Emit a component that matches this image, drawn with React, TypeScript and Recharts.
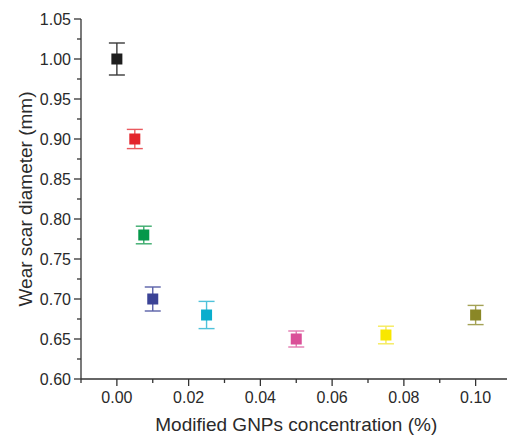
import { ScatterChart, Scatter, XAxis, YAxis, ErrorBar } from 'recharts'

// GNP loading (%) and measured wear scar diameters (mm) with their error bars
const concentration = [0, 0.005, 0.0075, 0.01, 0.025, 0.05, 0.075, 0.1]
const wearScar = [1.0, 0.9, 0.78, 0.7, 0.68, 0.65, 0.655, 0.68]
const wearError = [0.02, 0.012, 0.011, 0.015, 0.017, 0.01, 0.011, 0.012]

const markerColors = ['#1e1e1e', '#e3242b', '#05984a', '#3b4396', '#0aaecd', '#da4f98', '#f8e700', '#8a8726']
const barColors = ['#3a3a3a', '#ea5a5f', '#3bab6c', '#5a61a8', '#4fc2da', '#e27ab1', '#f5ea5a', '#a4a255']

const xMajorTicks = [0, 0.02, 0.04, 0.06, 0.08, 0.1]
const xMinorTicks = [-0.01, 0.01, 0.03, 0.05, 0.07, 0.09, 0.11]
const yMajorTicks = [0.6, 0.65, 0.7, 0.75, 0.8, 0.85, 0.9, 0.95, 1.0, 1.05]
const yMinorTicks = [0.625, 0.675, 0.725, 0.775, 0.825, 0.875, 0.925, 0.975, 1.025]

const FONT = '"Liberation Sans", Arial, sans-serif'
const AXIS = '#333333'
const TEXT = '#2a2a2a'

const series = concentration.map((x, i) => ({
  data: [{ x, y: wearScar[i], err: wearError[i] }],
  color: markerColors[i],
  barColor: barColors[i],
}))

const Square = (props: any) => {
  const { cx, cy, fill } = props
  if (cx == null || cy == null) return null
  return <rect x={cx - 5.5} y={cy - 5.5} width={11} height={11} fill={fill} />
}

// bottom axis: long ticks + labels on majors, short ticks on minors
const BottomTick = (props: any) => {
  const { x, y, payload } = props
  const major = xMajorTicks.includes(payload.value)
  return (
    <g>
      <line x1={x} x2={x} y1={y} y2={y + (major ? 7 : 4)} stroke={AXIS} strokeWidth={1.3} />
      {major && (
        <text x={x} y={y + 24} textAnchor="middle" fontSize={16} fontFamily={FONT} fill={TEXT}>
          {payload.value.toFixed(2)}
        </text>
      )}
    </g>
  )
}

const TopTick = (props: any) => {
  const { x, y } = props
  return <line x1={x} x2={x} y1={y} y2={y + 4} stroke={AXIS} strokeWidth={1.3} />
}

const LeftTick = (props: any) => {
  const { x, y, payload } = props
  const major = yMajorTicks.includes(payload.value)
  return (
    <g>
      <line x1={x - (major ? 7 : 4)} x2={x} y1={y} y2={y} stroke={AXIS} strokeWidth={1.3} />
      {major && (
        <text x={x - 10} y={y + 5.5} textAnchor="end" fontSize={16} fontFamily={FONT} fill={TEXT}>
          {payload.value.toFixed(2)}
        </text>
      )}
    </g>
  )
}

export default function App() {
  return (
    <div style={{ position: 'fixed', left: 0, top: 0, width: 507, height: 437, overflow: 'hidden', background: '#fff' }}>
      <ScatterChart width={540} height={437} margin={{ top: 19, right: 28.5, bottom: 0, left: 0 }}>
        <XAxis
          type="number"
          dataKey="x"
          domain={[-0.01, 0.11]}
          ticks={[...xMinorTicks, ...xMajorTicks].sort((a, b) => a - b)}
          interval={0}
          height={58}
          tickSize={0}
          tickMargin={0}
          tickLine={false}
          tick={<BottomTick />}
          axisLine={{ stroke: AXIS, strokeWidth: 1.3 }}
          label={{ value: 'Modified GNPs concentration (%)', position: 'insideBottom', offset: 6, fontSize: 19, fontFamily: FONT, fill: TEXT }}
        />
        <XAxis
          xAxisId="top"
          orientation="top"
          type="number"
          dataKey="x"
          domain={[-0.01, 0.11]}
          ticks={xMajorTicks}
          interval={0}
          height={0}
          tickSize={0}
          tickMargin={0}
          tickLine={false}
          tick={<TopTick />}
          axisLine={{ stroke: AXIS, strokeWidth: 1.3 }}
        />
        <YAxis
          type="number"
          dataKey="y"
          domain={[0.6, 1.05]}
          ticks={[...yMinorTicks, ...yMajorTicks].sort((a, b) => a - b)}
          interval={0}
          width={81}
          tickSize={0}
          tickMargin={0}
          tickLine={false}
          tick={<LeftTick />}
          axisLine={{ stroke: AXIS, strokeWidth: 1.3 }}
          label={{
            value: 'Wear scar diameter (mm)',
            angle: -90,
            position: 'insideLeft',
            offset: 25,
            fontSize: 19,
            fontFamily: FONT,
            fill: TEXT,
            style: { textAnchor: 'middle' },
          }}
        />
        <YAxis
          yAxisId="right"
          orientation="right"
          type="number"
          domain={[0.6, 1.05]}
          width={0}
          tick={false}
          tickLine={false}
          axisLine={{ stroke: AXIS, strokeWidth: 1.3 }}
        />
        {series.map((s, i) => (
          <Scatter key={i} data={s.data} fill={s.color} shape={<Square />} isAnimationActive={false}>
            <ErrorBar dataKey="err" direction="y" width={8} stroke={s.barColor} strokeWidth={1.4} isAnimationActive={false} />
          </Scatter>
        ))}
      </ScatterChart>
    </div>
  )
}
